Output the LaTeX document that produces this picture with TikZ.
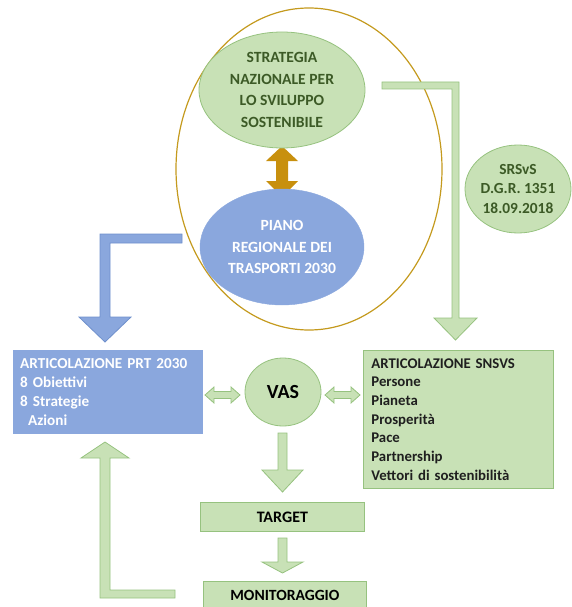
\documentclass[tikz,border=0pt]{standalone}
\usepackage{fontspec}
\setmainfont{Carlito}
\usetikzlibrary{shapes.geometric}
\definecolor{gfill}{HTML}{C8E1B6}
\definecolor{gline}{HTML}{96C27F}
\definecolor{gtext}{HTML}{3C5A26}
\definecolor{bfill}{HTML}{8AA7DD}
\definecolor{bline}{HTML}{6F90CC}
\definecolor{gold}{HTML}{C49A1E}
\definecolor{goldarrow}{HTML}{C8900E}
\begin{document}
\begin{tikzpicture}[x=1pt,y=-1pt,
  txt/.style={font=\fontsize{15.6}{21.5}\selectfont\bfseries},
  gell/.style={ellipse,fill=gfill,draw=gline,line width=0.8pt,align=center,inner sep=0pt},
  gbox/.style={rectangle,fill=gfill,draw=gline,line width=0.8pt,inner sep=0pt},
  garrow/.style={fill=gfill,draw=gline,line width=0.8pt,line join=miter},
  barrow/.style={fill=bfill,draw=bline,line width=0.8pt,line join=miter}]
\useasboundingbox (0,0) rectangle (572,607);
% big circle
\node[ellipse,draw=gold,line width=1.2pt,minimum width=266,minimum height=322,inner sep=0pt] (circ) at (309,169) {};
% gold double arrow
\fill[goldarrow] (282,146) -- (298,161) -- (288,161) -- (288,181) -- (298,181) -- (282,197)
  -- (266,181) -- (276,181) -- (276,161) -- (266,161) -- cycle;
% top ellipse
\node[gell,minimum width=166,minimum height=116,text=gtext,txt] (sns) at (282,90)
  {STRATEGIA\\NAZIONALE PER\\LO SVILUPPO\\SOSTENIBILE};
% blue ellipse
\node[ellipse,fill=bfill,draw=bfill,minimum width=164,minimum height=116,inner sep=0pt,align=center,text=white,txt] (prt) at (282,247)
  {PIANO\\REGIONALE DEI\\TRASPORTI 2030};
% SRSvS ellipse
\node[gell,minimum width=106,minimum height=88,text=gtext,font=\fontsize{15.4}{19.5}\selectfont\bfseries] (srs) at (518,189)
  {SRSvS\\D.G.R. 1351\\18.09.2018};
% green bent arrow top right
\path[garrow] (382,82) -- (459,82) -- (459,318) -- (477,318) -- (455.5,340) -- (434,318)
  -- (452,318) -- (452,89) -- (382,89) -- cycle;
% blue bent arrow
\path[barrow] (182,234) -- (100,234) -- (100,317) -- (79,317) -- (105,342) -- (131,317)
  -- (110,317) -- (110,243) -- (182,243) -- cycle;
% blue box
\node[rectangle,fill=bfill,draw=bfill,minimum width=189,minimum height=83,inner sep=0pt,anchor=north west,
  text width=180,align=left,text=white,font=\fontsize{15.2}{19}\selectfont\bfseries] (pbox) at (13,350)
  {\hspace*{2.5pt}ARTICOLAZIONE PRT 2030\\\hspace*{2.5pt}8 Obiettivi\\\hspace*{2.5pt}8 Strategie\\\hspace*{2.5pt}\hspace*{8pt}Azioni};
% green box SNSVS
\node[gbox,minimum width=190,minimum height=138,anchor=north west,
  text width=182,align=left,text=black!88,font=\fontsize{14.8}{18.7}\selectfont\bfseries] (sbox) at (363,350)
  {\hspace*{4pt}ARTICOLAZIONE SNSVS\\\hspace*{4pt}Persone\\\hspace*{4pt}Pianeta\\\hspace*{4pt}Prosperità\\\hspace*{4pt}Pace\\\hspace*{4pt}Partnership\\\hspace*{4pt}Vettori di sostenibilità};
% VAS
\node[gell,minimum width=76,minimum height=68,font=\fontsize{20}{24}\selectfont\bfseries,text=black] (vas) at (283,392) {VAS};
% small double arrows
\path[garrow] (205,395) -- (214,387) -- (214,391.5) -- (231,391.5) -- (231,387) -- (240,395)
  -- (231,403) -- (231,398.5) -- (214,398.5) -- (214,403) -- cycle;
\path[garrow] (325,395) -- (334,387) -- (334,391.5) -- (351,391.5) -- (351,387) -- (360,395)
  -- (351,403) -- (351,398.5) -- (334,398.5) -- (334,403) -- cycle;
% VAS -> TARGET arrow
\path[garrow] (278,433) -- (287,433) -- (287,470) -- (303,470) -- (282.5,492) -- (262,470)
  -- (278,470) -- cycle;
% TARGET
\node[gbox,minimum width=164,minimum height=29,anchor=north west] (tgt) at (200,502) {};
\node[font=\fontsize{16}{19}\selectfont\bfseries,text=black] (tgtlbl) at (tgt.center) {TARGET};
% TARGET -> MONITORAGGIO arrow
\path[garrow] (278,538) -- (287,538) -- (287,562) -- (303,562) -- (282.5,573) -- (262,562)
  -- (278,562) -- cycle;
% MONITORAGGIO
\node[gbox,minimum width=163,minimum height=26,anchor=north west] (mon) at (203,581) {};
\node[font=\fontsize{15.6}{19}\selectfont\bfseries,text=black] (monlbl) at ([yshift=-1pt]mon.center) {MONITORAGGIO};
% return arrow
\path[garrow] (175,590) -- (110,590) -- (110,458) -- (129,458) -- (105,442) -- (81,458)
  -- (100,458) -- (100,598) -- (175,598) -- cycle;
\end{tikzpicture}
\end{document}
